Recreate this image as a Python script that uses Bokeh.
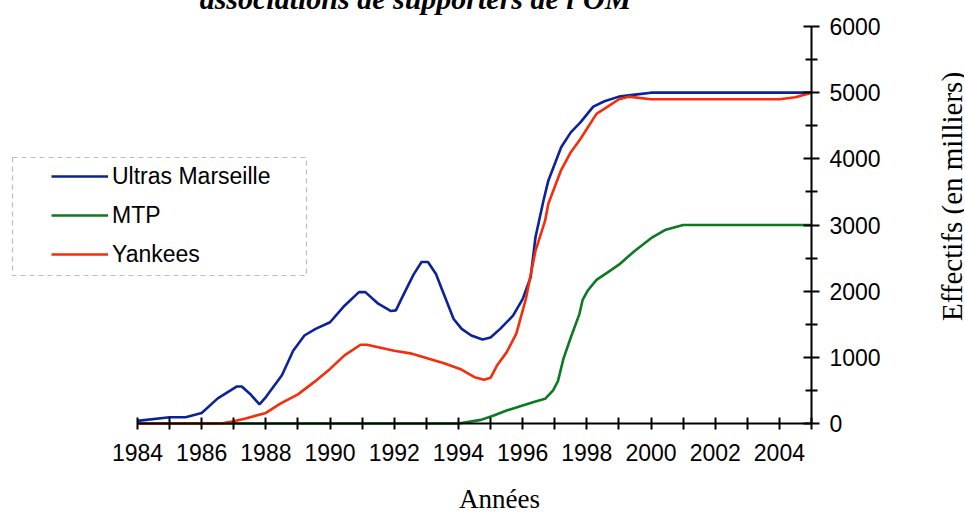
import math
from bokeh.plotting import figure
from bokeh.models import (Range1d, FixedTicker, Legend, LegendItem,
                          Label, BoxAnnotation)
from bokeh.embed import file_html
from bokeh.resources import INLINE

# ---- data ----
ultras_x = [1984.0, 1985.0, 1985.5, 1986.0, 1986.5, 1987.1, 1987.25, 1987.5, 1987.8,
            1988.0, 1988.5, 1988.85, 1989.2, 1989.55, 1990.0, 1990.45, 1990.9, 1991.1,
            1991.5, 1991.9, 1992.05, 1992.3, 1992.6, 1992.85, 1993.05, 1993.3, 1993.5,
            1993.85, 1994.1, 1994.4, 1994.75, 1995.0, 1995.3, 1995.7, 1996.0, 1996.25,
            1996.4, 1996.65, 1996.8, 1997.2, 1997.5, 1997.8, 1998.2, 1998.55, 1999.0,
            1999.5, 2000.0, 2005.0]
ultras_y = [40, 95, 95, 160, 380, 560, 560, 450, 290,
            400, 730, 1100, 1330, 1430, 1530, 1780, 1985, 1985,
            1810, 1700, 1710, 1960, 2250, 2440, 2440, 2260, 2010,
            1580, 1430, 1330, 1270, 1300, 1430, 1630, 1880, 2210,
            2815, 3370, 3670, 4175, 4400, 4550, 4790, 4870, 4940,
            4970, 5000, 5000]

mtp_x = [1984.0, 1994.0, 1994.7, 1995.1, 1995.5, 1996.0, 1996.4, 1996.7, 1996.95,
         1997.1, 1997.27, 1997.5, 1997.77, 1997.87, 1998.03, 1998.3, 1998.65, 1999.0,
         1999.47, 2000.0, 2000.46, 2001.0, 2005.0]
mtp_y = [0, 0, 55, 120, 196, 272, 332, 373, 500,
         640, 977, 1300, 1657, 1870, 2010, 2170, 2285, 2400,
         2600, 2800, 2930, 3000, 3000]

yankees_x = [1984.0, 1986.6, 1987.0, 1987.4, 1988.0, 1988.45, 1989.0, 1989.5, 1990.0,
             1990.45, 1990.95, 1991.15, 1992.0, 1992.5, 1993.0, 1993.55, 1994.05, 1994.5,
             1994.8, 1995.0, 1995.2, 1995.5, 1995.8, 1996.1, 1996.4, 1996.7, 1996.8,
             1997.2, 1997.5, 1997.8, 1998.3, 1998.65, 1999.0, 1999.3, 2000.0, 2004.0,
             2004.5, 2005.0]
yankees_y = [0, 0, 35, 80, 160, 300, 440, 625, 825,
             1030, 1190, 1190, 1100, 1060, 990, 910, 825, 700,
             660, 690, 875, 1075, 1355, 1880, 2610, 3065, 3320,
             3830, 4100, 4300, 4680, 4790, 4900, 4940, 4900, 4900,
             4930, 5000]

series_names = ["Ultras Marseille", "MTP", "Yankees"]
x_major_ticks = [1984, 1986, 1988, 1990, 1992, 1994, 1996, 1998, 2000, 2002, 2004]
x_minor_ticks = [1985, 1987, 1989, 1991, 1993, 1995, 1997, 1999, 2001, 2003, 2005]
y_major_ticks = [0, 1000, 2000, 3000, 4000, 5000, 6000]
y_minor_ticks = [500, 1500, 2500, 3500, 4500, 5500]
x_axis_span = (1984, 2005)
y_axis_span = (0, 6000)
title_text = "associations de supporters de l'OM"
x_title = "Années"
y_title = "Effectifs (en milliers)"

SANS = "Liberation Sans"
SERIF = "Liberation Serif"

# ---- layout: canvas pixels where the axis span should land ----
W, H = 972, 519
PX_LEFT, PX_RIGHT = 145, 819      # x = 1984 .. 2005
PX_TOP, PX_BOTTOM = 34, 431       # y = 6000 .. 0
sx = (x_axis_span[1] - x_axis_span[0]) / (PX_RIGHT - PX_LEFT)
sy = (y_axis_span[1] - y_axis_span[0]) / (PX_BOTTOM - PX_TOP)
x_rng = Range1d(x_axis_span[0] - PX_LEFT * sx, x_axis_span[1] + (W - PX_RIGHT) * sx)
y_rng = Range1d(y_axis_span[0] - (H - PX_BOTTOM) * sy, y_axis_span[1] + PX_TOP * sy)


def px_to_data(cx, cy):
    """canvas pixel -> data coordinates (for annotation placement)"""
    return (x_rng.start + cx * sx, y_rng.end - cy * sy)


p = figure(width=W, height=H, x_range=x_rng, y_range=y_rng,
           y_axis_location="right",
           output_backend="svg", toolbar_location=None,
           min_border_left=0, min_border_right=0,
           min_border_top=0, min_border_bottom=0)
p.margin = (-8, 0, 0, -8)
p.outline_line_color = None
p.xgrid.visible = False
p.ygrid.visible = False
p.background_fill_color = "white"
p.border_fill_color = "white"

r_u = p.line(ultras_x, ultras_y, line_color="#0c2299", line_width=2.6)
r_m = p.line(mtp_x, mtp_y, line_color="#0b7a22", line_width=2.6)
r_y = p.line(yankees_x, yankees_y, line_color="#f52d0a", line_width=2.6)

# x axis at y = 0
xa = p.xaxis[0]
xa.fixed_location = 0
xa.bounds = x_axis_span
xa.ticker = FixedTicker(ticks=x_major_ticks, minor_ticks=x_minor_ticks)
xa.axis_line_width = 2
xa.major_tick_line_width = 2
xa.minor_tick_line_width = 2
xa.major_tick_in = 6
xa.major_tick_out = 6
xa.minor_tick_in = 6
xa.minor_tick_out = 6
xa.major_label_text_font = SANS
xa.major_label_text_font_size = "23px"
xa.major_label_text_color = "black"
xa.major_label_standoff = 14

# y axis at x = 2005 (labels on the right)
ya = p.yaxis[0]
ya.fixed_location = x_axis_span[1]
ya.bounds = y_axis_span
ya.ticker = FixedTicker(ticks=y_major_ticks, minor_ticks=y_minor_ticks)
ya.axis_line_width = 2
ya.major_tick_line_width = 2
ya.minor_tick_line_width = 2
ya.major_tick_in = 8
ya.major_tick_out = 8
ya.minor_tick_in = 6
ya.minor_tick_out = 6
ya.major_label_text_font = SANS
ya.major_label_text_font_size = "23px"
ya.major_label_text_color = "black"
ya.major_label_standoff = 10

# legend
legend = Legend(items=[LegendItem(label=series_names[0], renderers=[r_u]),
                       LegendItem(label=series_names[1], renderers=[r_m]),
                       LegendItem(label=series_names[2], renderers=[r_y])],
                location=(59, H - 276), padding=0, margin=0, spacing=11,
                glyph_width=57, glyph_height=28, label_height=28,
                label_standoff=4,
                label_text_font=SANS, label_text_font_size="23px",
                label_text_color="black",
                border_line_alpha=0, background_fill_alpha=0)
p.add_layout(legend)

bl, bt = px_to_data(20, 165)
br, bb = px_to_data(314, 283)
box = BoxAnnotation(left=bl, right=br, top=bt, bottom=bb,
                    fill_alpha=0, line_color="#222222", line_width=1.2,
                    line_dash="5 4")
p.add_layout(box)

# texts
tx, ty = px_to_data(423, 6)
p.add_layout(Label(x=tx, y=ty, text=title_text, text_align="center",
                   text_baseline="alphabetic", text_font=SERIF,
                   text_font_style="bold italic", text_font_size="30px",
                   text_color="black"))
ax, ay = px_to_data(507, 506)
p.add_layout(Label(x=ax, y=ay, text=x_title, text_align="center",
                   text_baseline="middle", text_font=SERIF,
                   text_font_size="27px", text_color="black"))
lx, ly = px_to_data(959, 204)
p.add_layout(Label(x=lx, y=ly, text=y_title, text_align="center",
                   text_baseline="middle", text_font=SERIF, angle=math.pi / 2,
                   text_font_size="29px", text_color="black"))

open("out.html", "w").write(file_html(p, INLINE))
